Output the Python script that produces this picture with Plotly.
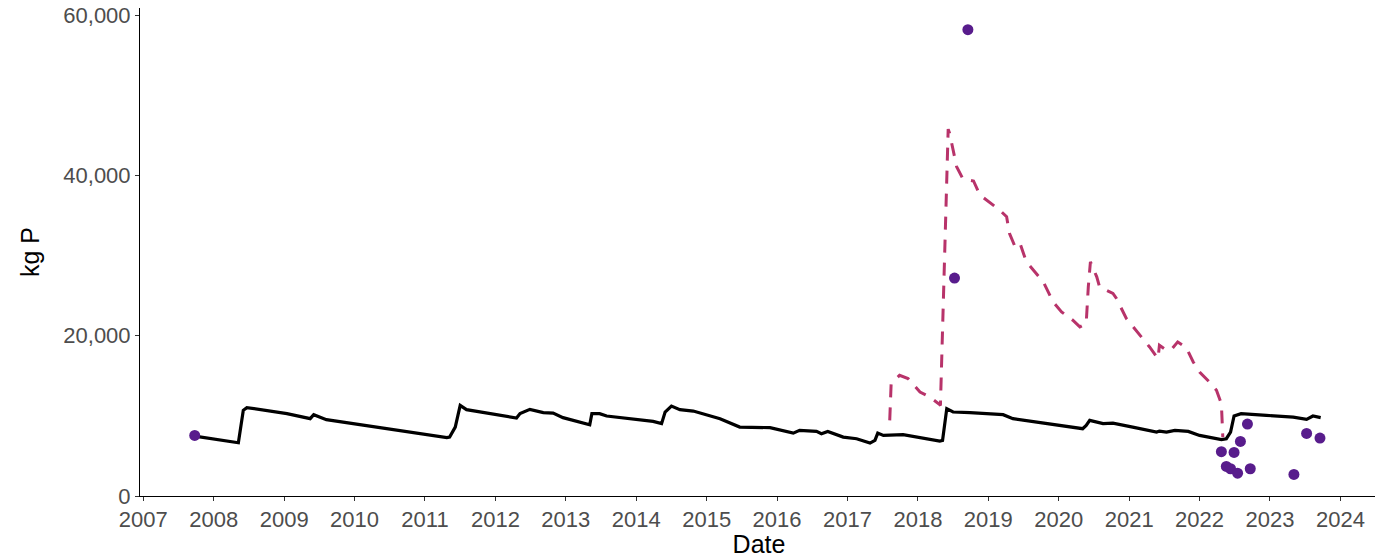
import plotly.graph_objects as go

# decimal years, values in kg P
MODEL_YEARS = [
    2007.73, 2008.35, 2008.42, 2008.47, 2009.04, 2009.37, 2009.42, 2009.60, 2011.31, 2011.35,
    2011.43, 2011.50, 2011.59, 2012.25, 2012.30, 2012.35, 2012.49, 2012.68, 2012.82, 2012.96,
    2013.29, 2013.34, 2013.37, 2013.48, 2013.58, 2014.24, 2014.36, 2014.41, 2014.50, 2014.62,
    2014.81, 2015.19, 2015.47, 2015.90, 2016.23, 2016.32, 2016.56, 2016.63, 2016.72, 2016.94,
    2017.13, 2017.32, 2017.39, 2017.43, 2017.51, 2017.79, 2018.31, 2018.35, 2018.41, 2018.50,
    2018.74, 2019.21, 2019.35, 2019.87, 2020.34, 2020.39, 2020.44, 2020.63, 2020.77, 2021.05,
    2021.39, 2021.43, 2021.53, 2021.65, 2021.84, 2022.00, 2022.31, 2022.38, 2022.44, 2022.49,
    2022.59, 2022.95, 2023.33, 2023.52, 2023.61, 2023.72,
]
MODEL_KG = [
    7480, 6650, 10690, 11030, 10280, 9650, 10150, 9530, 7280, 7350,
    8600, 11310, 10780, 9850, 9730, 10280, 10810, 10400, 10350, 9780,
    9100, 8900, 10280, 10280, 9980, 9310, 9030, 10480, 11230, 10780,
    10600, 9650, 8600, 8530, 7850, 8190, 8060, 7780, 8060, 7350,
    7150, 6600, 6940, 7850, 7560, 7650, 6850, 6940, 10900, 10480,
    10400, 10150, 9650, 9030, 8400, 8810, 9440, 9030, 9100, 8600,
    7980, 8100, 7980, 8190, 8060, 7560, 7030, 7150, 7980, 9980,
    10280, 10060, 9850, 9560, 9980, 9780,
]

ALT_YEARS = [
    2017.60, 2017.62, 2017.74, 2017.86, 2018.03, 2018.17, 2018.31, 2018.32, 2018.43, 2018.45,
    2018.55, 2018.64, 2018.79, 2018.88, 2019.16, 2019.26, 2019.30, 2019.38, 2019.45, 2019.54,
    2019.78, 2019.92, 2020.04, 2020.20, 2020.30, 2020.39, 2020.42, 2020.45, 2020.54, 2020.58,
    2020.77, 2020.82, 2020.96, 2021.05, 2021.20, 2021.29, 2021.41, 2021.43, 2021.53, 2021.60,
    2021.69, 2021.81, 2021.91, 2022.00, 2022.14, 2022.24, 2022.31, 2022.33,
]
ALT_KG = [
    9440, 14030, 15060, 14650, 12980, 12350, 11400, 11310, 45780, 45280,
    41100, 39560, 39310, 37560, 35690, 34850, 32780, 31100, 31530, 29230,
    26730, 24230, 22980, 21940, 21100, 21530, 26100, 29230, 27350, 26100,
    25280, 24650, 22150, 21190, 19650, 18600, 17150, 18810, 18190, 18280,
    19230, 18530, 16730, 15480, 14230, 13190, 11530, 7350,
]

OBS_YEARS = [
    2007.73, 2018.52, 2018.71, 2022.68, 2022.58, 2022.31, 2022.49, 2022.38, 2022.44, 2022.54,
    2022.72, 2023.34, 2023.52, 2023.71,
]
OBS_KG = [
    7560, 27190, 58190, 8980, 6810, 5530, 5440, 3690, 3400, 2850,
    3400, 2690, 7810, 7230,
]

YEAR_TICKS = list(range(2007, 2025))
Y_TICKS = [0, 20000, 40000, 60000]

FONT = "Liberation Sans, Arial, sans-serif"

fig = go.Figure()
fig.add_trace(go.Scatter(
    x=MODEL_YEARS, y=MODEL_KG, mode="lines",
    line=dict(color="black", width=3.2),
    hoverinfo="skip",
))
fig.add_trace(go.Scatter(
    x=ALT_YEARS, y=ALT_KG, mode="lines",
    line=dict(color="#B8336A", width=3, dash="13px,10px"),
    hoverinfo="skip",
))
fig.add_trace(go.Scatter(
    x=OBS_YEARS, y=OBS_KG, mode="markers",
    marker=dict(color="#581C8C", size=11),
    hovertemplate="%{x:.2f}<br>%{y:,} kg P<extra></extra>",
))

# the page body adds an 8px offset, so the figure is 8px smaller than the window
fig.update_layout(
    width=1375,
    height=550,
    showlegend=False,
    plot_bgcolor="white",
    paper_bgcolor="white",
    font=dict(family=FONT, size=22, color="#4D4D4D"),
    margin=dict(l=132, r=5, t=0, b=62),
    xaxis=dict(
        range=[2006.953, 2024.534],
        tickvals=YEAR_TICKS,
        ticktext=[str(y) for y in YEAR_TICKS],
        showgrid=False, zeroline=False,
        showline=True, linecolor="black", linewidth=1,
        ticks="outside", ticklen=4, tickcolor="#333333",
        tickfont=dict(size=22, color="#4D4D4D"),
        title=dict(text="Date", font=dict(size=25, color="black"), standoff=6),
        automargin=False,
    ),
    yaxis=dict(
        range=[0, 60900],
        tickvals=Y_TICKS,
        tickformat=",",
        showgrid=False, zeroline=False,
        showline=True, linecolor="black", linewidth=1,
        ticks="outside", ticklen=4, tickcolor="#333333",
        tickfont=dict(size=22, color="#4D4D4D"),
        ticklabeloverflow="allow",
        title=dict(text="kg P", font=dict(size=25, color="black"), standoff=16),
        automargin=False,
    ),
)

fig.write_html("out.html")
